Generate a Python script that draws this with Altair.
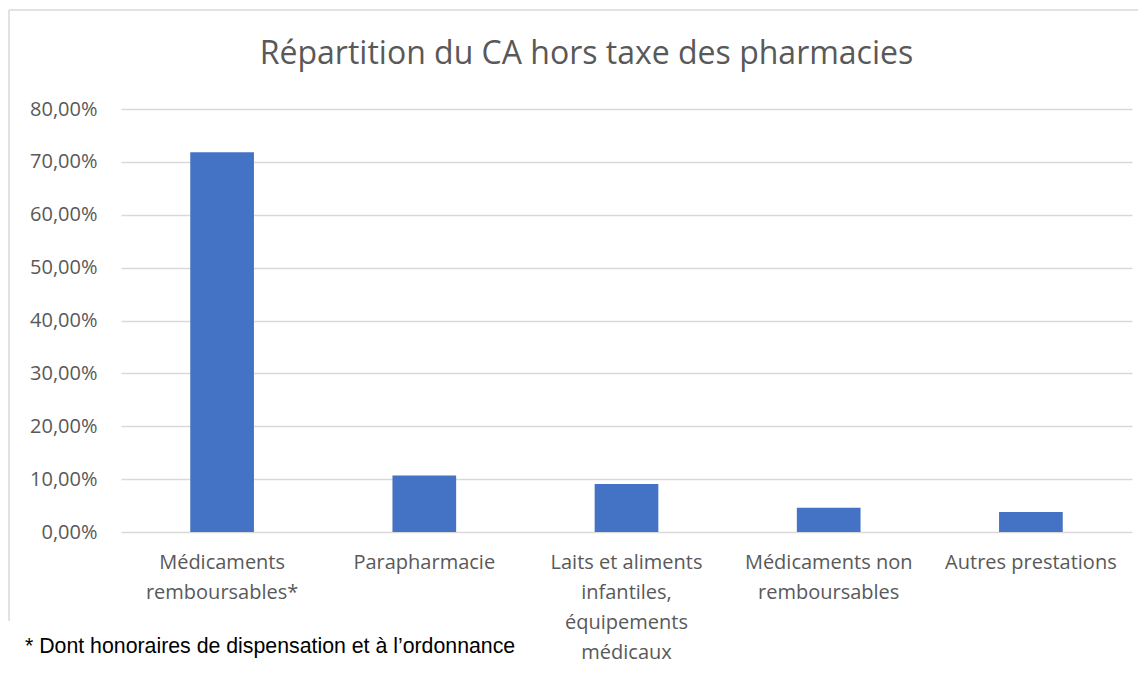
import altair as alt
import pandas as pd

categories = [
    "Médicaments remboursables*",
    "Parapharmacie",
    "Laits et aliments infantiles, équipements médicaux",
    "Médicaments non remboursables",
    "Autres prestations",
]
label_lines = [
    "Médicaments|remboursables*",
    "Parapharmacie",
    "Laits et aliments|infantiles,|équipements|médicaux",
    "Médicaments non|remboursables",
    "Autres prestations",
]
values = [0.718, 0.107, 0.091, 0.046, 0.038]
y_ticks = [0, 0.1, 0.2, 0.3, 0.4, 0.5, 0.6, 0.7, 0.8]
title_text = "Répartition du CA hors taxe des pharmacies"
footnote = "* Dont honoraires de dispensation et à l’ordonnance"

df = pd.DataFrame({"cat": categories, "val": values, "lab": label_lines})

label_map = "{" + ",".join(f'"{c}":"{l}"' for c, l in zip(categories, label_lines)) + "}"

W, H = 1011, 423
FONT = "Open Sans"
GREY = "#595959"

bars = alt.Chart(df).mark_bar(color="#4472C4").encode(
    x=alt.X(
        "cat:N",
        sort=categories,
        scale=alt.Scale(paddingInner=0.685, paddingOuter=0.3425),
        axis=alt.Axis(
            title=None,
            labelAngle=0,
            labelFont=FONT,
            labelFontSize=20,
            labelColor=GREY,
            labelPadding=20,
            labelLineHeight=30,
            labelBaseline="top",
            ticks=False,
            domain=False,
            labelExpr="split(" + label_map + "[datum.label], '|')",
        ),
    ),
    y=alt.Y(
        "val:Q",
        scale=alt.Scale(domain=[0, 0.8], nice=False),
        axis=alt.Axis(
            title=None,
            values=y_ticks,
            labelFont=FONT,
            labelFontSize=20,
            labelColor=GREY,
            labelPadding=24,
            ticks=False,
            domain=False,
            gridColor="#d9d9d9",
            gridWidth=1.5,
            labelExpr="replace(format(datum.value, '.2%'), '.', ',')",
        ),
    ),
)

note = alt.Chart(pd.DataFrame({"t": [footnote]})).mark_text(
    align="left", baseline="alphabetic", font="Liberation Sans", fontSize=21.3, color="#000000"
).encode(x=alt.value(-96), y=alt.value(544), text="t:N")

border_top = alt.Chart(pd.DataFrame({"a": [0]})).mark_rule(color="#d9d9d9", strokeWidth=1.5).encode(
    x=alt.value(-112), x2=alt.value(1030), y=alt.value(-99)
)
border_left = alt.Chart(pd.DataFrame({"a": [0]})).mark_rule(color="#d9d9d9", strokeWidth=1.5).encode(
    x=alt.value(-112), y=alt.value(-99), y2=alt.value(512)
)

chart = alt.layer(border_top, border_left, bars, note).properties(
    width=W,
    height=H,
    autosize=alt.AutoSizeParams(type="none"),
    padding={"left": 113, "top": 101, "right": 6, "bottom": 135},
    title=alt.Title(
        title_text,
        font=FONT,
        fontSize=32,
        fontWeight="normal",
        color=GREY,
        anchor="middle",
        baseline="alphabetic",
        dx=-40,
        offset=-87,
    ),
).configure_view(stroke=None)

chart.save("out.html", embed_options={"renderer": "svg", "actions": False})
